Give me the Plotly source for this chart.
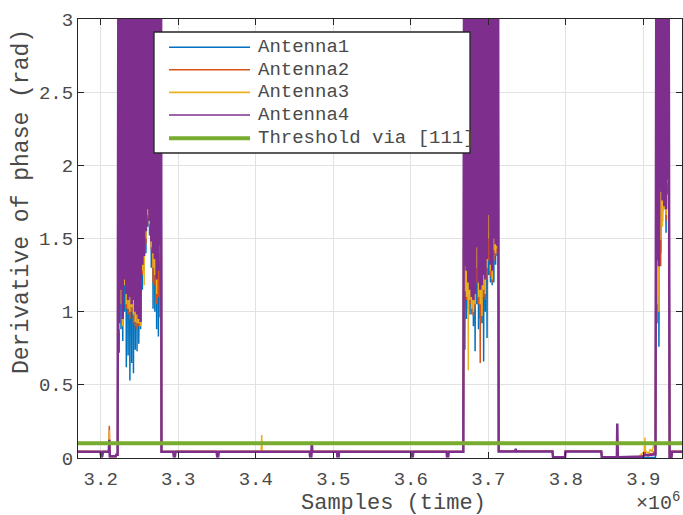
import numpy as np
import plotly.graph_objects as go

# ---------------------------------------------------------------- axes
X_RANGE = [3170700, 3949900]
Y_RANGE = [0, 3]
X_TICKS = [3.2e6, 3.3e6, 3.4e6, 3.5e6, 3.6e6, 3.7e6, 3.8e6, 3.9e6]
X_TICK_TEXT = ["3.2", "3.3", "3.4", "3.5", "3.6", "3.7", "3.8", "3.9"]
Y_TICKS = [0, 0.5, 1, 1.5, 2, 2.5, 3]
Y_TICK_TEXT = ["0", "0.5", "1", "1.5", "2", "2.5", "3"]

THRESHOLD = 0.1
NAMES = ["Antenna1", "Antenna2", "Antenna3", "Antenna4"]
COLORS = ["#0072BD", "#D95319", "#EDB120", "#7E2F8E"]
THRESHOLD_COLOR = "#77AC30"

# ------------------------------------------------- quiet stretches (sample, value)
Q0_X = [3165000, 3199700, 3200600, 3201900, 3202800, 3210400, 3211100,
        3211700, 3219500, 3220100, 3221800]
A1_Q0 = [0.042, 0.042, 0.011, 0.011, 0.042, 0.042, 0.100, 0.010, 0.010, 0.019, 0.020]
A2_Q0 = [0.046, 0.045, 0.013, 0.012, 0.045, 0.046, 0.220, 0.011, 0.011, 0.021, 0.020]
A3_Q0 = [0.045, 0.044, 0.013, 0.013, 0.044, 0.045, 0.190, 0.010, 0.010, 0.020, 0.021]
A4_Q0 = [0.043, 0.043, 0.012, 0.012, 0.043, 0.043, 0.125, 0.012, 0.012, 0.022, 0.022]

Q1_X = [3278400, 3293700, 3294300, 3295800, 3296500,
        3349500, 3350200, 3351600, 3352200,
        3407000, 3407700, 3408400,
        3469600, 3470100, 3471700, 3472300, 3473000,
        3504800, 3505300, 3506900, 3507500,
        3600500, 3601000, 3602600, 3603300,
        3646200, 3646700, 3648300, 3648900,
        3667800]
A1_Q1 = [0.042, 0.042, 0.011, 0.011, 0.042,
         0.042, 0.011, 0.011, 0.042,
         0.042, 0.042, 0.042,
         0.042, 0.011, 0.011, 0.090, 0.042,
         0.042, 0.011, 0.011, 0.042,
         0.042, 0.011, 0.011, 0.042,
         0.042, 0.011, 0.011, 0.042,
         0.042]
A2_Q1 = [0.046, 0.045, 0.013, 0.013, 0.046,
         0.046, 0.013, 0.013, 0.045,
         0.046, 0.050, 0.046,
         0.045, 0.013, 0.013, 0.070, 0.046,
         0.046, 0.013, 0.013, 0.046,
         0.045, 0.013, 0.013, 0.046,
         0.046, 0.013, 0.013, 0.045,
         0.046]
A3_Q1 = [0.044, 0.044, 0.013, 0.013, 0.044,
         0.045, 0.013, 0.013, 0.044,
         0.044, 0.157, 0.044,
         0.044, 0.013, 0.013, 0.060, 0.044,
         0.045, 0.013, 0.013, 0.044,
         0.044, 0.013, 0.013, 0.045,
         0.044, 0.013, 0.013, 0.044,
         0.044]
A4_Q1 = [0.043, 0.043, 0.012, 0.012, 0.043,
         0.043, 0.012, 0.012, 0.043,
         0.043, 0.043, 0.043,
         0.043, 0.012, 0.012, 0.110, 0.043,
         0.043, 0.012, 0.012, 0.043,
         0.043, 0.012, 0.012, 0.043,
         0.043, 0.012, 0.012, 0.043,
         0.043]

Q2_X = [3713400, 3734800, 3735400, 3736000,
        3782800, 3783500, 3799000, 3799600,
        3845800, 3846400, 3865900, 3866400, 3867100,
        3893100, 3897000, 3899500, 3901400, 3902100, 3902800,
        3906500, 3909000, 3911200, 3913500, 3915700]
A1_Q2 = [0.044, 0.044, 0.065, 0.044,
         0.044, 0.004, 0.004, 0.044,
         0.044, 0.004, 0.004, 0.080, 0.004,
         0.004, 0.003, 0.002, 0.003, 0.004, 0.003,
         0.002, 0.003, 0.002, 0.003, 0.005]
A2_Q2 = [0.047, 0.047, 0.052, 0.047,
         0.047, 0.006, 0.006, 0.047,
         0.047, 0.006, 0.006, 0.100, 0.006,
         0.005, 0.010, 0.015, 0.020, 0.060, 0.020,
         0.015, 0.030, 0.020, 0.040, 0.030]
A3_Q2 = [0.046, 0.046, 0.050, 0.046,
         0.046, 0.006, 0.006, 0.046,
         0.046, 0.006, 0.006, 0.090, 0.006,
         0.006, 0.020, 0.035, 0.050, 0.140, 0.050,
         0.030, 0.060, 0.040, 0.090, 0.060]
A4_Q2 = [0.045, 0.045, 0.062, 0.045,
         0.045, 0.005, 0.005, 0.045,
         0.045, 0.005, 0.005, 0.235, 0.005,
         0.005, 0.008, 0.010, 0.020, 0.022, 0.020,
         0.020, 0.022, 0.020, 0.022, 0.025]

Q3_X = [3933900, 3936300, 3937000, 3955000]
A1_Q3 = [0.007, 0.007, 0.042, 0.042]
A2_Q3 = [0.010, 0.010, 0.046, 0.046]
A3_Q3 = [0.009, 0.009, 0.044, 0.044]
A4_Q3 = [0.008, 0.008, 0.043, 0.043]

# ------------------------------------------------------- burst sampling
# (first sample, sample spacing, number of samples)
BURST_GRID = [(3222700, 1150, 49), (3668700, 1100, 41), (3916700, 1150, 15)]

A1_B1 = [3.05, 0.72, 3.08, 0.88, 3.02, 0.80, 3.06, 1.00, 3.04, 0.62,
         3.07, 0.70, 3.03, 0.53, 3.08, 0.65, 3.05, 0.58, 3.02, 0.74,
         3.06, 0.73, 3.04, 0.78, 3.07, 0.88, 3.03, 1.15, 3.05, 1.28,
         3.08, 1.40, 3.02, 1.58, 3.06, 1.52, 3.04, 1.30, 3.07, 1.02,
         3.03, 1.00, 3.05, 0.88, 3.08, 0.83, 3.02, 0.96, 3.06]
A2_B1 = [3.09, 0.86, 3.06, 1.10, 3.11, 0.90, 3.07, 1.20, 3.10, 1.02,
         3.05, 0.98, 3.09, 0.95, 3.08, 1.00, 3.11, 0.92, 3.06, 0.90,
         3.10, 0.88, 3.07, 0.90, 3.09, 0.91, 3.05, 1.25, 3.11, 1.33,
         3.08, 1.46, 3.06, 1.64, 3.10, 1.58, 3.07, 1.42, 3.09, 1.20,
         3.11, 1.18, 3.05, 1.05, 3.08, 1.10, 3.10, 1.32, 3.07]
A3_B1 = [3.08, 0.88, 3.11, 1.05, 3.06, 0.90, 3.10, 1.18, 3.07, 1.05,
         3.12, 1.02, 3.08, 1.00, 3.06, 1.03, 3.09, 0.98, 3.11, 0.93,
         3.07, 0.92, 3.10, 0.92, 3.06, 0.90, 3.12, 1.28, 3.08, 1.18,
         3.09, 1.50, 3.11, 1.66, 3.07, 1.60, 3.10, 1.44, 3.06, 1.30,
         3.08, 1.25, 3.12, 1.12, 3.09, 1.35, 3.07, 1.40, 3.11]
A4_B1 = [3.12, 0.92, 3.10, 1.15, 3.14, 0.95, 3.11, 1.22, 3.13, 1.12,
         3.09, 1.08, 3.14, 1.10, 3.12, 1.05, 3.10, 1.08, 3.13, 1.00,
         3.11, 0.98, 3.14, 0.95, 3.12, 0.93, 3.10, 1.32, 3.13, 1.38,
         3.11, 1.55, 3.14, 1.70, 3.09, 1.62, 3.12, 1.48, 3.13, 1.40,
         3.10, 1.36, 3.14, 1.22, 3.11, 1.28, 3.12, 1.45, 3.13]

A1_B2 = [3.04, 0.74, 3.07, 0.95, 3.02, 1.02, 3.06, 0.98, 3.05, 1.00,
         3.08, 0.90, 3.03, 0.73, 3.06, 1.05, 3.04, 0.88, 3.07, 0.95,
         3.02, 0.92, 3.05, 0.66, 3.08, 1.00, 3.03, 0.82, 3.06, 1.25,
         3.04, 1.20, 3.07, 1.18, 3.02, 1.20, 3.05, 1.32, 3.08, 1.38,
         3.04]
A2_B2 = [3.08, 1.15, 3.11, 1.08, 3.06, 1.00, 3.09, 1.05, 3.10, 0.98,
         3.07, 0.97, 3.11, 1.02, 3.05, 1.20, 3.09, 1.05, 3.08, 0.65,
         3.10, 1.00, 3.06, 1.10, 3.11, 1.08, 3.07, 1.22, 3.09, 1.35,
         3.05, 1.24, 3.10, 1.20, 3.08, 1.35, 3.06, 1.38, 3.11, 1.40,
         3.09]
A3_B2 = [3.10, 1.14, 3.07, 1.10, 3.12, 0.60, 3.08, 1.08, 3.06, 1.02,
         3.11, 1.00, 3.09, 1.05, 3.07, 1.30, 3.12, 1.10, 3.06, 1.05,
         3.09, 0.97, 3.11, 1.15, 3.07, 1.12, 3.10, 1.30, 3.08, 1.50,
         3.12, 1.28, 3.06, 1.22, 3.09, 1.42, 3.11, 1.40, 3.07, 1.43,
         3.10]
A4_B2 = [3.13, 1.31, 3.10, 1.28, 3.14, 1.20, 3.11, 1.15, 3.12, 1.10,
         3.09, 1.08, 3.13, 1.12, 3.14, 1.44, 3.10, 1.20, 3.12, 1.15,
         3.11, 1.18, 3.14, 1.25, 3.09, 1.22, 3.13, 1.36, 3.10, 1.66,
         3.12, 1.32, 3.14, 1.28, 3.11, 1.50, 3.13, 1.46, 3.10, 1.45,
         3.12]

A1_B3 = [3.05, 1.20, 3.08, 0.76, 3.03, 1.40, 3.06, 1.62, 3.04, 1.70, 3.07, 1.54, 3.05, 1.80, 3.02]
A2_B3 = [3.09, 0.92, 3.06, 1.10, 3.11, 1.31, 3.07, 1.68, 3.10, 1.71, 3.08, 1.62, 3.06, 1.85, 3.09]
A3_B3 = [3.07, 1.05, 3.11, 1.00, 3.08, 1.49, 3.10, 1.58, 3.06, 1.70, 3.09, 1.66, 3.11, 1.88, 3.08]
A4_B3 = [3.12, 1.35, 3.14, 1.31, 3.10, 1.82, 3.13, 1.76, 3.11, 1.72, 3.14, 1.70, 3.12, 1.90, 3.10]

QUIET_X = [Q0_X, Q1_X, Q2_X, Q3_X]
SERIES = [
    ([A1_Q0, A1_Q1, A1_Q2, A1_Q3], [A1_B1, A1_B2, A1_B3]),
    ([A2_Q0, A2_Q1, A2_Q2, A2_Q3], [A2_B1, A2_B2, A2_B3]),
    ([A3_Q0, A3_Q1, A3_Q2, A3_Q3], [A3_B1, A3_B2, A3_B3]),
    ([A4_Q0, A4_Q1, A4_Q2, A4_Q3], [A4_B1, A4_B2, A4_B3]),
]
LINE_WIDTHS = [1.5, 1.5, 1.5, 2.5]


def burst_samples(start, step, count):
    return list(start + step * np.arange(count))


def assemble(quiet_vals, burst_vals):
    xs, ys = [], []
    for i in range(3):
        xs += QUIET_X[i]
        ys += quiet_vals[i]
        xs += burst_samples(*BURST_GRID[i])
        ys += burst_vals[i]
    xs += QUIET_X[3]
    ys += quiet_vals[3]
    return xs, ys


fig = go.Figure()
for name, color, width, (qv, bv) in zip(NAMES, COLORS, LINE_WIDTHS, SERIES):
    xs, ys = assemble(qv, bv)
    fig.add_trace(go.Scatter(x=xs, y=ys, mode="lines", name=name,
                             line=dict(color=color, width=width), showlegend=False))

fig.add_trace(go.Scatter(x=[X_RANGE[0], X_RANGE[1]], y=[THRESHOLD, THRESHOLD],
                         mode="lines", name="Threshold via [111]",
                         line=dict(color=THRESHOLD_COLOR, width=4), showlegend=False))

# ---------------------------------------------------------------- layout
W, H = 683, 515
PLOT_L, PLOT_R, PLOT_T, PLOT_B = 78, 682, 19, 458
FONT = "Liberation Mono, Courier New, monospace"
TEXT = "#4a4a4a"
AX = "#262626"


def px_x(p):
    return (p - PLOT_L) / (PLOT_R - PLOT_L)


def px_y(p):
    return (PLOT_B - p) / (PLOT_B - PLOT_T)


axis_common = dict(showgrid=True, gridcolor="#e2e2e2", gridwidth=1,
                   showline=True, linecolor=AX, linewidth=1, mirror="ticks",
                   ticks="inside", ticklen=6, tickwidth=1, tickcolor=AX,
                   zeroline=False, tickfont=dict(family=FONT, size=19, color=TEXT))

fig.update_xaxes(range=X_RANGE, tickmode="array", tickvals=X_TICKS,
                 ticktext=X_TICK_TEXT, ticklabelstandoff=3, **axis_common)
fig.update_yaxes(range=Y_RANGE, tickmode="array", tickvals=Y_TICKS,
                 ticktext=Y_TICK_TEXT, **axis_common)

annotations = [
    dict(text="Samples (time)", x=px_x(393), y=px_y(503), xref="paper", yref="paper",
         xanchor="center", yanchor="middle", showarrow=False,
         font=dict(family=FONT, size=22, color=TEXT)),
    dict(text="Derivative of phase (rad)", x=px_x(22), y=px_y(202), xref="paper",
         yref="paper", xanchor="center", yanchor="middle", textangle=-90,
         showarrow=False, font=dict(family=FONT, size=23, color=TEXT)),
    dict(text="\u00d710<sup>6</sup>", x=px_x(682), y=px_y(502), xref="paper",
         yref="paper", xanchor="right", yanchor="middle", showarrow=False,
         font=dict(family=FONT, size=20, color=TEXT)),
]

# legend box
shapes = [dict(type="rect", xref="paper", yref="paper",
               x0=px_x(154), x1=px_x(470), y0=px_y(153), y1=px_y(32),
               line=dict(color=AX, width=1.3), fillcolor="white", layer="above")]
legend_rows = [47.3, 69.8, 92.4, 115.0, 138.3]
legend_names = NAMES + ["Threshold via [111]"]
legend_colors = COLORS + [THRESHOLD_COLOR]
legend_widths = [1.6, 1.6, 1.6, 1.6, 4]
for row, label, col, lw in zip(legend_rows, legend_names, legend_colors, legend_widths):
    shapes.append(dict(type="line", xref="paper", yref="paper",
                       x0=px_x(169), x1=px_x(250), y0=px_y(row), y1=px_y(row),
                       line=dict(color=col, width=lw), layer="above"))
    annotations.append(dict(text=label, x=px_x(256), y=px_y(row), xref="paper",
                            yref="paper", xanchor="left", yanchor="middle",
                            showarrow=False,
                            font=dict(family=FONT, size=19, color=TEXT)))

fig.update_layout(width=W, height=H,
                  margin=dict(l=PLOT_L, r=W - PLOT_R, t=PLOT_T, b=H - PLOT_B),
                  paper_bgcolor="white", plot_bgcolor="white",
                  showlegend=False, annotations=annotations, shapes=shapes)

fig.write_html("out.html")
